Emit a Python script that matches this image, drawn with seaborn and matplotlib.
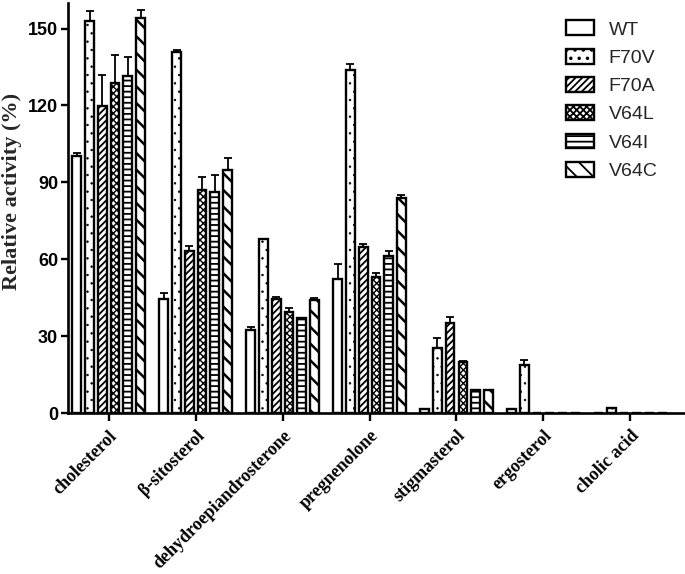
import matplotlib

matplotlib.use("Agg")
import matplotlib.patches as mpatches
import matplotlib.pyplot as plt
import numpy as np
import pandas as pd
import seaborn as sns

# ================================================================
# Data
# ================================================================
substrates = ["cholesterol", "β-sitosterol", "dehydroepiandrosterone", "pregnenolone",
              "stigmasterol", "ergosterol", "cholic acid"]
strains = ["WT", "F70V", "F70A", "V64L", "V64I", "V64C"]

wt = [100.3, 44.5, 32.5, 52.3, 1.8, 1.8, 0.3]
wt_err = [1.2, 2.5, 1.0, 5.8, 0.0, 0.0, 0.0]
f70v = [152.8, 140.8, 67.8, 133.7, 25.3, 18.7, 2.2]
f70v_err = [4.2, 1.0, 0.0, 2.6, 3.9, 2.0, 0.0]
f70a = [119.7, 63.4, 44.5, 64.7, 35.3, 0.0, 0.0]
f70a_err = [12.3, 1.8, 0.8, 1.3, 2.3, 0.0, 0.0]
v64l = [128.8, 87.1, 39.5, 53.0, 19.8, 0.0, 0.0]
v64l_err = [11.0, 4.9, 1.5, 1.6, 0.6, 0.0, 0.0]
v64i = [131.4, 86.4, 37.0, 61.3, 9.0, 0.0, 0.0]
v64i_err = [7.5, 6.6, 0.0, 2.1, 0.0, 0.0, 0.0]
v64c = [154.2, 94.7, 44.0, 83.9, 9.0, 0.0, 0.0]
v64c_err = [3.2, 4.8, 1.0, 1.3, 0.0, 0.0, 0.0]

values = [wt, f70v, f70a, v64l, v64i, v64c]
errors = [wt_err, f70v_err, f70a_err, v64l_err, v64i_err, v64c_err]
hatches = ["", "..", "/////", "xxxxx", "---", "\\\\"]
hatch_lw = [1.0, 0.5, 1.3, 1.0, 1.3, 1.8]

rows = []
for strain, vals in zip(strains, values):
    for sub, v in zip(substrates, vals):
        rows.append({"Substrate": sub, "Strain": strain, "Activity": v})
df = pd.DataFrame(rows)


def style_patch(p, hatch, lw):
    p.set_hatch(hatch)
    if hasattr(p, "set_hatch_linewidth"):
        p.set_hatch_linewidth(lw)


# ================================================================
# Plot
# ================================================================
sns.set_style("ticks")
plt.rcParams["hatch.linewidth"] = 1.3
plt.rcParams["font.family"] = ["Liberation Sans", "DejaVu Sans"]

fig = plt.figure(figsize=(6.85, 5.74), dpi=100)
ax = fig.add_axes([0.099, 0.28, 0.90, 0.715])

sns.barplot(data=df, x="Substrate", y="Activity", hue="Strain", order=substrates,
            hue_order=strains, width=0.88, gap=0.32, palette=["white"] * 6,
            edgecolor="black", linewidth=1.7, errorbar=None, legend=False, ax=ax)

for cont, h, hl, err in zip(ax.containers, hatches, hatch_lw, errors):
    xs, ys = [], []
    for bar in cont.patches:
        style_patch(bar, h, hl)
        bar.set_facecolor("white")
        bar.set_edgecolor("black")
        xs.append(bar.get_x() + bar.get_width() / 2)
        ys.append(bar.get_height())
    err = np.array(err)
    ax.errorbar(xs, ys, yerr=[np.zeros_like(err), err], fmt="none", ecolor="black",
                elinewidth=1.3, capsize=3, capthick=1.3, zorder=1)

ax.set_ylim(0, 160)
ax.set_xlim(-0.47, 6.62)
ax.set_yticks([0, 30, 60, 90, 120, 150])
ax.set_xlabel("")
ax.set_ylabel("Relative activity (%)", family=["Liberation Serif"], fontweight="bold",
              fontsize=16)
ax.yaxis.set_label_coords(-0.074, 0.54)

for lab in ax.get_yticklabels():
    lab.set_fontweight("bold")
    lab.set_fontsize(13)
ax.set_xticks(range(len(substrates)))
ax.set_xticklabels(substrates, rotation=45, ha="right", rotation_mode="anchor",
                   family=["Liberation Serif"], fontweight="bold", fontsize=13)

ax.tick_params(axis="both", width=1.7, length=5, colors="black")
ax.tick_params(axis="y", pad=2)
ax.tick_params(axis="x", length=6, pad=4)
for side in ["left", "bottom"]:
    ax.spines[side].set_linewidth(1.9)
    ax.spines[side].set_color("black")
sns.despine(ax=ax)

handles = []
for s, h, hl in zip(strains, hatches, hatch_lw):
    p = mpatches.Patch(facecolor="white", edgecolor="black", linewidth=1.7, label=s)
    style_patch(p, h, hl)
    handles.append(p)
ax.legend(handles=handles, loc="upper right", bbox_to_anchor=(0.985, 1.0), frameon=False,
          fontsize=14, handlelength=1.45, handleheight=0.8, labelspacing=0.52, handletextpad=0.75)

fig.savefig("out.png", dpi=100)
plt.close(fig)
